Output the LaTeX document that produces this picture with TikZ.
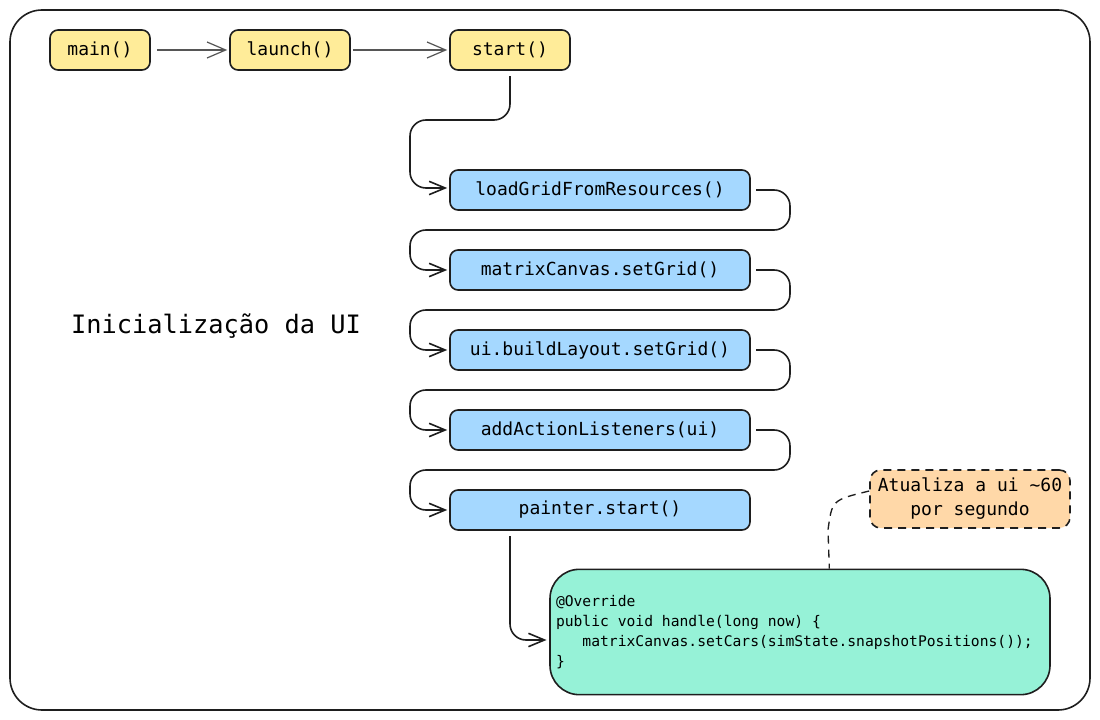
\documentclass[tikz,border=0pt]{standalone}
\usepackage{fontspec}
\setmonofont{DejaVu Sans Mono}
\usetikzlibrary{arrows.meta}
\definecolor{callyellow}{HTML}{FFEC99}
\definecolor{callblue}{HTML}{A5D8FF}
\definecolor{codegreen}{HTML}{96F2D7}
\definecolor{noteorange}{HTML}{FFD8A8}
\definecolor{ink}{HTML}{1E1E1E}
\tikzset{
    callbox/.style={draw=ink, line width=1.2pt, rounded corners=6pt, minimum height=30pt,
        font=\ttfamily\fontsize{13.5}{16}\selectfont},
    flow/.style={->, draw=ink, line width=1.2pt, rounded corners=12pt},
    notedash/.style={dash pattern=on 6pt off 4.5pt},
}
\begin{document}
\begin{tikzpicture}[x=0.75pt, y=-0.75pt, >={Straight Barb[length=12pt, width=10pt]}]
            \useasboundingbox (0,0) rectangle (1100,720);
            \draw[ink, line width=1.2pt, rounded corners=24pt] (10,10) rectangle (1090,710);

            % Nodes
            \node[callbox, fill=callyellow, minimum width=75pt] at (100, 50) (main) {main()};
            \node[callbox, fill=callyellow, minimum width=90pt] at (290, 50) (launch) {launch()};
            \node[callbox, fill=callyellow, minimum width=90pt] at (510, 50) (start) {start()};

            \node[callbox, fill=callblue, minimum width=225pt] at (600, 190) (load) {loadGridFromResources()};
            \node[callbox, fill=callblue, minimum width=225pt] at (600, 270) (grid) {matrixCanvas.setGrid()};
            \node[callbox, fill=callblue, minimum width=225pt] at (600, 350) (layout) {ui.buildLayout.setGrid()};
            \node[callbox, fill=callblue, minimum width=225pt] at (600, 430) (listeners) {addActionListeners(ui)};
            \node[callbox, fill=callblue, minimum width=225pt] at (600, 510) (painter) {painter.start()};

            \node[draw=ink, fill=codegreen, line width=1.2pt, rounded corners=22pt,
                minimum width=375pt, minimum height=94pt, text width=366pt, inner xsep=4.5pt,
                align=left, font=\ttfamily\fontsize{11}{15}\selectfont] at (800, 632) (code)
                {\spaceskip=0pt\xspaceskip=0pt\relax
                 @Override\\
                 public void handle(long now) \{\\
                 \hspace*{3\fontcharwd\font`\ }matrixCanvas.setCars(simState.snapshotPositions());\\
                 \}};

            \node[draw=ink, fill=noteorange, line width=1.2pt, notedash, rounded corners=8pt,
                minimum width=150pt, minimum height=43.5pt, inner xsep=2pt, align=center,
                font=\ttfamily\fontsize{13.5}{18}\selectfont] at (970, 499) (note)
                {Atualiza a ui \textasciitilde60\\por segundo};

            \node[font=\ttfamily\fontsize{19}{22}\selectfont] at (216, 326) (title) {Inicialização da UI};

            % Edges
            \draw[->, draw=ink!75, line width=0.9pt, >={Straight Barb[length=14pt, width=12pt]}]
                ([xshift=5pt]main.east) -- ([xshift=-1.5pt]launch.west);
            \draw[->, draw=ink!75, line width=0.9pt, >={Straight Barb[length=14pt, width=12pt]}]
                ([xshift=1.5pt]launch.east) -- ([xshift=-1.5pt]start.west);

            \draw[flow] ([yshift=-4pt]start.south) -- (510, 120) -- (410, 120) -- (410, 188)
                -- ([xshift=-1.5pt, yshift=1.5pt]load.west);

            \draw[flow] ([xshift=4pt]load.east) -- (790, 190) -- (790, 230) -- (410, 230) -- (410, 270)
                -- ([xshift=-1.5pt]grid.west);
            \draw[flow] ([xshift=4pt]grid.east) -- (790, 270) -- (790, 310) -- (410, 310) -- (410, 350)
                -- ([xshift=-1.5pt]layout.west);
            \draw[flow] ([xshift=4pt]layout.east) -- (790, 350) -- (790, 390) -- (410, 390) -- (410, 430)
                -- ([xshift=-1.5pt]listeners.west);
            \draw[flow] ([xshift=4pt]listeners.east) -- (790, 430) -- (790, 470) -- (410, 470) -- (410, 510)
                -- ([xshift=-1.5pt]painter.west);

            \draw[flow] ([xshift=-67.5pt, yshift=-4pt]painter.south) -- (510, 640)
                -- ([xshift=-2pt]code.west |- 0, 640);

            \draw[draw=ink, line width=1pt, notedash] ([yshift=6pt]note.west) .. controls (832, 500) .. (828, 530)
                -- ([xshift=22pt]code.north);
\end{tikzpicture}
\end{document}
